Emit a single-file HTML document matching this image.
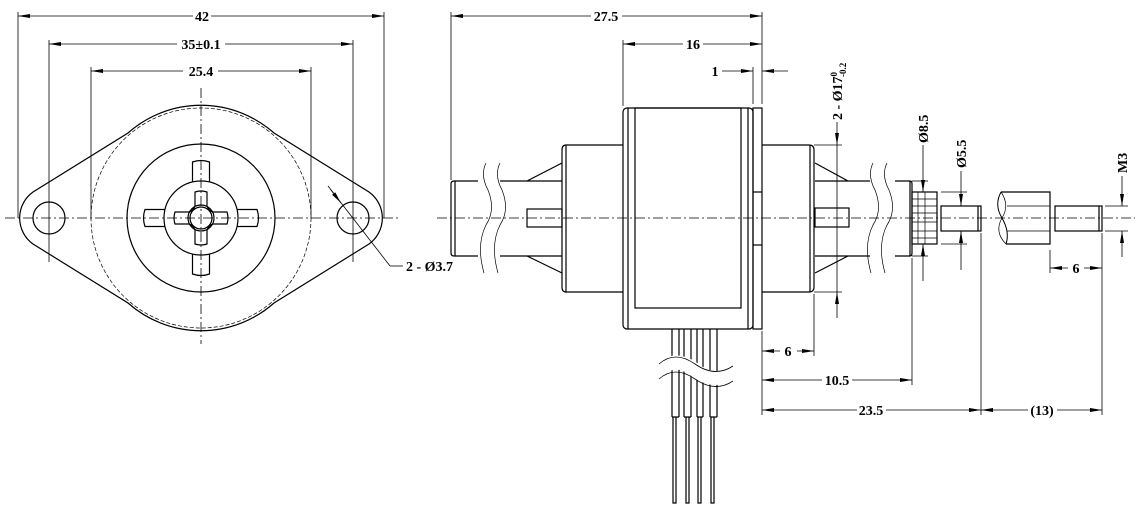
<!DOCTYPE html>
<html><head><style>
html,body{margin:0;padding:0;background:#fff}
svg{display:block}
text{font-family:"Liberation Serif",serif;font-weight:bold;font-size:14px;fill:#000}
</style></head><body>
<svg width="1140" height="509" viewBox="0 0 1140 509" xmlns="http://www.w3.org/2000/svg">
<defs>
<marker id="a" viewBox="0 0 12 4" refX="12" refY="2" markerWidth="12" markerHeight="4" markerUnits="userSpaceOnUse" orient="auto-start-reverse"><path d="M0,0 L12,2 L0,4z" fill="#000"/></marker>
</defs>
<g fill="none" stroke="#000" stroke-width="1.2">
<!-- LEFT VIEW -->
<g stroke-dasharray="10 3 2 3" stroke-width="0.8">
<line x1="5" y1="218" x2="398" y2="218"/>
<line x1="201" y1="88" x2="201" y2="344"/>
</g>
<circle cx="201" cy="218" r="110" stroke-dasharray="4 2" stroke-width="0.7"/>
<path d="M128,133 A110,110 0 0 1 274,133 L369,192 A32,32 0 0 1 369,244 L274,303 A110,110 0 0 1 128,303 L33,244 A32,32 0 0 1 33,192 Z"/>
<circle cx="49" cy="218" r="16"/>
<circle cx="353" cy="218" r="16"/>
<circle cx="201" cy="218" r="74"/>
<circle cx="201" cy="218" r="37"/>
<circle cx="201" cy="218" r="13"/>
<circle cx="201" cy="218" r="11"/>
<path d="M192.5,182 V162 Q201,159 209.5,162 V182"/>
<path d="M192.5,254 V274 Q201,277 209.5,274 V254"/>
<path d="M165,209.5 H145 Q142,218 145,226.5 H165"/>
<path d="M237,209.5 H257 Q260,218 257,226.5 H237"/>
<path d="M195,206 V192 Q201,190 207,192 V206 Q209,211 213,212 H227 Q229,218 227,224 H213 Q209,225 207,230 V244 Q201,246 195,244 V230 Q193,225 189,224 H175 Q173,218 175,212 H189 Q193,211 195,206 Z"/>
<g stroke-width="0.8">
<line x1="18" y1="12" x2="18" y2="218"/><line x1="384" y1="12" x2="384" y2="218"/>
<line x1="49" y1="40" x2="49" y2="262"/><line x1="353" y1="40" x2="353" y2="262"/>
<line x1="91" y1="67" x2="91" y2="218"/><line x1="311" y1="67" x2="311" y2="218"/>
<line x1="193" y1="16" x2="18" y2="16" marker-end="url(#a)"/><line x1="211" y1="16" x2="384" y2="16" marker-end="url(#a)"/>
<line x1="177" y1="44" x2="49" y2="44" marker-end="url(#a)"/><line x1="225" y1="44" x2="353" y2="44" marker-end="url(#a)"/>
<line x1="183" y1="71" x2="91" y2="71" marker-end="url(#a)"/><line x1="218" y1="71" x2="311" y2="71" marker-end="url(#a)"/>
<line x1="390" y1="266" x2="328" y2="186"/><line x1="390" y1="266" x2="403" y2="266"/>
<line x1="331" y1="190" x2="341" y2="203" marker-end="url(#a)"/>
</g>

<!-- SIDE VIEW -->
<line x1="437" y1="218" x2="1135" y2="218" stroke-dasharray="10 3 2 3" stroke-width="0.8"/>
<rect x="623" y="108" width="130" height="221" rx="4"/>
<line x1="628" y1="108" x2="628" y2="329"/>
<rect x="635" y="108" width="106" height="200"/>
<line x1="748" y1="108" x2="748" y2="329"/>
<rect x="753" y="108" width="9" height="221"/>
<line x1="753" y1="192" x2="762" y2="192"/><line x1="753" y1="245" x2="762" y2="245"/>
<path d="M623,145 H566 Q562,145 562,150 V287 Q562,292 566,292 H623"/><line x1="566" y1="145" x2="566" y2="292"/>
<path d="M762,145 H809 Q814,145 814,150 V287 Q814,292 809,292 H762"/><line x1="810" y1="145" x2="810" y2="292"/>
<path d="M454,181 H478 M500,181 H527 M454,256 H478 M500,256 H527"/>
<path d="M454,181 Q451,181 451,184 V253 Q451,256 454,256 M455,181 V256"/>
<path d="M562,163 L527,181 H562 M562,273 L527,256 H562"/>
<rect x="527" y="209" width="35" height="18"/>
<path d="M486,163 Q480,175 488,190 Q496,210 486,225 Q476,245 484,273" stroke-width="0.7"/>
<path d="M500,163 Q494,175 502,190 Q510,210 500,225 Q490,245 498,273" stroke-width="0.7"/>
<path d="M815,163 L848,181 H815 M815,273 L848,256 H815"/>
<path d="M848,181 H870 M895,181 H910 M848,256 H870 M895,256 H910"/>
<path d="M910,181 Q912,181 912,184 V253 Q912,256 910,256 V181"/>
<rect x="815" y="208" width="34" height="19"/>
<path d="M873,163 Q867,175 875,190 Q883,210 873,225 Q863,245 871,273" stroke-width="0.7"/>
<path d="M887,163 Q881,175 889,190 Q897,210 887,225 Q877,245 885,273" stroke-width="0.7"/>
<rect x="912" y="192" width="25" height="52"/>
<path d="M912,199 H937 M912,206 H937 M912,213 H937 M912,222 H937 M912,231 H937 M912,238 H937 M918,192 V244 M925,192 V244" stroke-width="0.7"/>
<rect x="941" y="206" width="40" height="25"/><line x1="978" y1="206" x2="978" y2="231"/>
<!-- right piece -->
<path d="M1001,192 H1050 V244 H1006"/>
<path d="M1001,192 Q994,205 1002,218 Q1010,232 1006,244" stroke-width="1"/>
<path d="M1001,192 Q1010,205 1002,218 Q994,232 1006,244" stroke-width="0.7"/>
<path d="M1007,206 H1050 M1007,231 H1050" stroke-width="0.8"/>
<rect x="1055" y="206" width="47" height="25"/><line x1="1099" y1="206" x2="1099" y2="231"/>
<!-- wires -->
<path d="M672,329 V417 M679,329 V417 M684,329 V417 M691,329 V417 M697,329 V417 M703,329 V417 M710,329 V417 M717,329 V417"/>
<path d="M672,417 H679 M684,417 H691 M697,417 H703 M710,417 H717"/>
<path d="M673,417 V503 H676 V417 M686,417 V503 H689 V417 M698,417 V503 H701 V417 M711,417 V503 H714 V417"/>
<path d="M659,370 Q675,355 695,370 Q715,385 733,372" stroke="#fff" stroke-width="14"/>
<path d="M659,364 Q675,350 695,364 Q715,378 733,366" stroke-width="0.8"/>
<path d="M659,379 Q675,365 695,379 Q715,393 733,381" stroke-width="0.8"/>
<g stroke-width="0.8">
<line x1="451" y1="12" x2="451" y2="180"/><line x1="762" y1="12" x2="762" y2="104"/>
<line x1="591" y1="16" x2="451" y2="16" marker-end="url(#a)"/><line x1="622" y1="16" x2="762" y2="16" marker-end="url(#a)"/>
<line x1="623" y1="40" x2="623" y2="106"/>
<line x1="683" y1="44" x2="623" y2="44" marker-end="url(#a)"/><line x1="703" y1="44" x2="762" y2="44" marker-end="url(#a)"/>
<line x1="753" y1="67" x2="753" y2="104"/>
<line x1="722" y1="71" x2="753" y2="71" marker-end="url(#a)"/><line x1="788" y1="71" x2="762" y2="71" marker-end="url(#a)"/>
<line x1="814" y1="145" x2="842" y2="145"/><line x1="814" y1="292" x2="842" y2="292"/>
<line x1="837" y1="122" x2="837" y2="145" marker-end="url(#a)"/><line x1="837" y1="318" x2="837" y2="292" marker-end="url(#a)"/><line x1="837" y1="145" x2="837" y2="292"/>
<line x1="912" y1="181" x2="928" y2="181"/><line x1="912" y1="256" x2="928" y2="256"/>
<line x1="923" y1="145" x2="923" y2="192" marker-end="url(#a)"/><line x1="923" y1="281" x2="923" y2="244" marker-end="url(#a)"/>
<line x1="941" y1="192" x2="967" y2="192"/><line x1="941" y1="244" x2="967" y2="244"/>
<line x1="961" y1="171" x2="961" y2="206" marker-end="url(#a)"/><line x1="961" y1="270" x2="961" y2="231" marker-end="url(#a)"/>
<line x1="1105" y1="206" x2="1128" y2="206"/><line x1="1105" y1="231" x2="1128" y2="231"/>
<line x1="1122" y1="176" x2="1122" y2="206" marker-end="url(#a)"/><line x1="1122" y1="257" x2="1122" y2="231" marker-end="url(#a)"/>
<line x1="762" y1="331" x2="762" y2="415"/>
<line x1="814" y1="294" x2="814" y2="356"/>
<line x1="912" y1="258" x2="912" y2="385"/>
<line x1="981" y1="233" x2="981" y2="415"/>
<line x1="1102" y1="233" x2="1102" y2="415"/>
<line x1="1050" y1="250" x2="1050" y2="273"/>
<line x1="780" y1="351" x2="762" y2="351" marker-end="url(#a)"/><line x1="797" y1="351" x2="814" y2="351" marker-end="url(#a)"/>
<line x1="822" y1="380" x2="762" y2="380" marker-end="url(#a)"/><line x1="852" y1="380" x2="912" y2="380" marker-end="url(#a)"/>
<line x1="857" y1="410" x2="762" y2="410" marker-end="url(#a)"/><line x1="886" y1="410" x2="981" y2="410" marker-end="url(#a)"/>
<line x1="1028" y1="410" x2="981" y2="410" marker-end="url(#a)"/><line x1="1057" y1="410" x2="1102" y2="410" marker-end="url(#a)"/>
<line x1="1068" y1="268" x2="1050" y2="268" marker-end="url(#a)"/><line x1="1084" y1="268" x2="1102" y2="268" marker-end="url(#a)"/>
</g>
</g>
<text x="202" y="21" text-anchor="middle">42</text>
<text x="201" y="49" text-anchor="middle">35±0.1</text>
<text x="201" y="76" text-anchor="middle">25.4</text>
<text x="406" y="271">2 - Ø3.7</text>
<text x="606" y="21" text-anchor="middle">27.5</text>
<text x="693" y="49" text-anchor="middle">16</text>
<text x="715" y="76" text-anchor="middle">1</text>
<text x="788" y="356" text-anchor="middle">6</text>
<text x="837" y="385" text-anchor="middle">10.5</text>
<text x="871" y="415" text-anchor="middle">23.5</text>
<text x="1042" y="415" text-anchor="middle">(13)</text>
<text x="1076" y="273" text-anchor="middle">6</text>
<text transform="translate(842,120) rotate(-90)">2 - Ø17<tspan font-size="9" dy="-5">0</tspan><tspan font-size="9" dx="-5" dy="9">-0.2</tspan></text>
<text transform="translate(928,143) rotate(-90)">Ø8.5</text>
<text transform="translate(966,168) rotate(-90)">Ø5.5</text>
<text transform="translate(1127,173) rotate(-90)">M3</text>
</svg>
</body></html>
